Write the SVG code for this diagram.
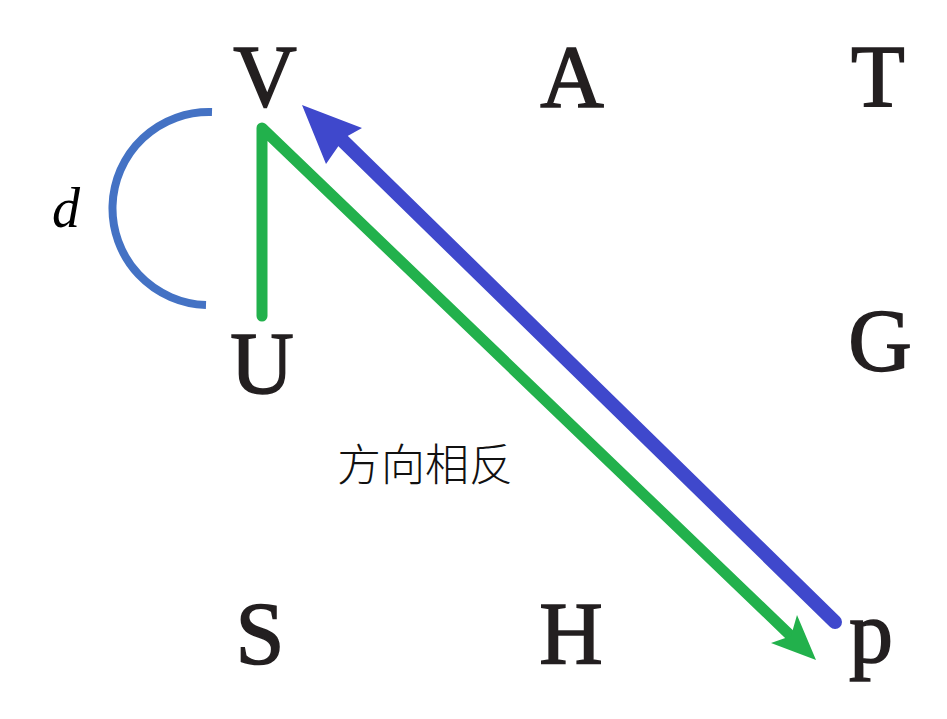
<svg xmlns="http://www.w3.org/2000/svg" width="947" height="719" viewBox="0 0 947 719">
<style>
.lbl{font-family:"Liberation Serif","Times New Roman",serif;font-size:88px;fill:#231f20;stroke:#231f20;stroke-width:1.6px;text-anchor:middle}
.cn{font-family:"Noto Sans CJK SC","Noto Sans",sans-serif;font-size:44px;font-weight:300;fill:#111;text-anchor:middle}
.it{font-family:"Liberation Serif","Times New Roman",serif;font-size:56px;font-style:italic;fill:#000;text-anchor:middle}
</style>
<rect width="947" height="719" fill="#fff"/>
<g id="connectors">
<path id="arc-d" d="M212,112 A96,96 0 0 0 206,305" fill="none" stroke="#4472C4" stroke-width="8"/>
<path id="green" d="M262,316 L262,128 L793,638" fill="none" stroke="#22B14C" stroke-width="11" stroke-linecap="round" stroke-linejoin="round"/>
<path id="green-head" d="M816,660 L771,643 L791,636 L797,615 Z" fill="#22B14C"/>
<path id="blue" d="M835,622 L342,140" fill="none" stroke="#3F48CC" stroke-width="14" stroke-linecap="round"/>
<path id="blue-head" d="M302,105 L362,128 L344,138 L326,164 Z" fill="#3F48CC"/>
</g>
<g id="node-V"><text class="lbl" x="265" y="106">V</text></g>
<g id="node-A"><text class="lbl" x="572" y="106">A</text></g>
<g id="node-T"><text class="lbl" x="878" y="106">T</text></g>
<g id="node-G"><text class="lbl" x="880" y="370">G</text></g>
<g id="node-U"><text class="lbl" x="262" y="393">U</text></g>
<g id="node-S"><text class="lbl" x="260" y="663">S</text></g>
<g id="node-H"><text class="lbl" x="571" y="663">H</text></g>
<g id="node-p"><text class="lbl" x="871" y="662">p</text></g>
<g id="label-d"><text class="it" x="66" y="227">d</text></g>
<g id="label-cn"><text class="cn" x="425" y="481">方向相反</text></g>
</svg>
